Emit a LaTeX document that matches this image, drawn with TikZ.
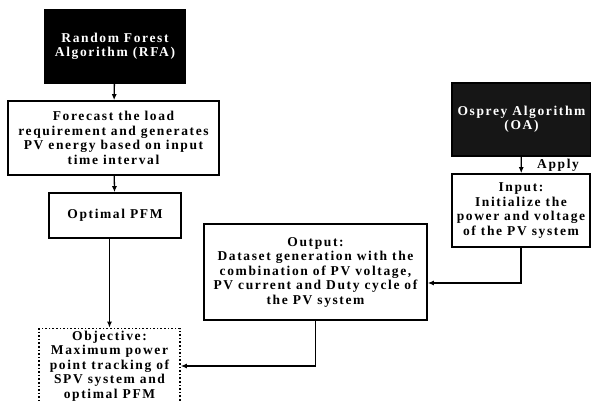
\documentclass[tikz,border=0pt]{standalone}
\usepackage{fontspec}
\setmainfont{Liberation Serif}
\newfontfamily\boxfont{Liberation Serif}[LetterSpace=12]
\usepackage{tikz}
\usetikzlibrary{arrows.meta, positioning}
\definecolor{algoblack}{RGB}{0, 0, 0}
\definecolor{ospreyblack}{RGB}{22, 22, 22}

\begin{document}
\begin{tikzpicture}[x=1pt, y=-1pt,
    box/.style={draw=black, line width=1.6pt, fill=white, align=center,
                inner sep=0pt, font=\boxfont\bfseries\fontsize{13.5}{14.5}\selectfont},
    algobox/.style={box, fill=algoblack, text=white},
    flow/.style={-{Latex[length=6pt, width=5pt]}, line width=1.3pt}]
    \useasboundingbox (0,0) rectangle (591,401);
    % left column: RFA
    \node[algobox, minimum width=140pt, minimum height=73pt] (rfa)
          at (115, 46.5) {Random Forest\\Algorithm (RFA)};
    \node[box, minimum width=211pt, minimum height=74pt] (forecast)
          at (113.5, 138) {Forecast the load\\requirement and generates\\PV energy based on input\\time interval};
    \node[box, minimum width=132pt, minimum height=45pt] (pfm)
          at (115, 215.5) {Optimal PFM};
    \node[box, dotted, minimum width=141pt, minimum height=75pt] (obj)
          at (109.5, 366) {Objective:\\Maximum power\\point tracking of\\SPV system and\\optimal PFM};
    % right column: OA
    \node[algobox, fill=ospreyblack, minimum width=139pt, minimum height=73pt] (osprey)
          at (521.5, 119.5) {Osprey Algorithm\\(OA)};
    \node[box, minimum width=138pt, minimum height=73pt] (input)
          at (521, 210.5) {Input:\\Initialize the\\power and voltage\\of the PV system};
    \node[box, minimum width=223pt, minimum height=96pt] (output)
          at (315.5, 272) {Output:\\Dataset generation with the\\combination of PV voltage,\\PV current and Duty cycle of\\the PV system};
    \coordinate (outin) at ([yshift=-11pt]output.east);
    % connectors
    \draw[flow] (rfa) -- (forecast);
    \draw[flow] (forecast) -- (pfm);
    \draw[flow] (obj.north |- pfm.south) -- (obj.north);
    \draw[flow] (osprey) -- node[right, xshift=12pt, font=\boxfont\bfseries\fontsize{13.5}{14.5}\selectfont] (apply) {Apply} (input);
    \draw[flow] (input.south) |- (outin);
    \draw[flow] (output.south) |- (obj.east);
\end{tikzpicture}
\end{document}
